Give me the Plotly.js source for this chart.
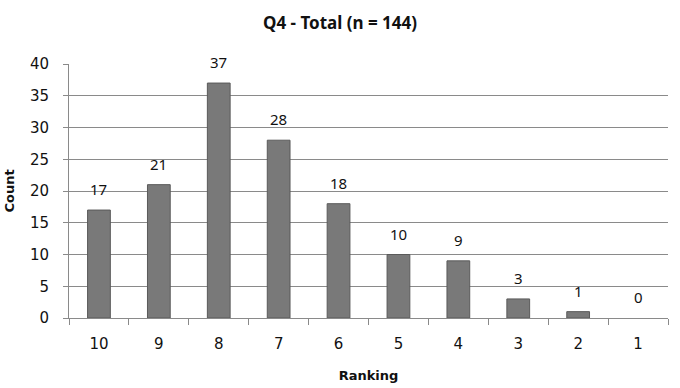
<!DOCTYPE html>
<html>
<head>
<meta charset="utf-8">
<script src="https://cdn.plot.ly/plotly-3.0.1.min.js"></script>
<style>html,body{margin:0;padding:0;background:#fff;}#chart{width:680px;height:388px;}</style>
</head>
<body>
<div id="chart"></div>
<script>
const categories = ["10", "9", "8", "7", "6", "5", "4", "3", "2", "1"];
const counts = [17, 21, 37, 28, 18, 10, 9, 3, 1, 0];
const yTicks = [0, 5, 10, 15, 20, 25, 30, 35, 40];

const trace = {
  type: "bar",
  x: categories,
  y: counts,
  marker: { color: "#797979", line: { color: "#5a5a5a", width: counts.map(v => v > 0 ? 1 : 0) } },
  hoverinfo: "none"
};

const annotations = categories.map((c, i) => ({
  x: i, y: counts[i], xref: "x", yref: "y",
  text: String(counts[i]), showarrow: false,
  yanchor: "middle", yshift: 21,
  font: { family: "Noto Sans, sans-serif", size: 15, color: "#111" }
}));

const layout = {
  width: 680, height: 388,
  margin: { l: 69, r: 12, t: 64, b: 70 },
  paper_bgcolor: "#fff", plot_bgcolor: "#fff",
  bargap: 0.62,
  showlegend: false,
  title: {
    text: "<b>Q4 - Total (n = 144)</b>",
    x: 0.5, xanchor: "center", y: 0.94, yanchor: "middle",
    font: { family: "Noto Sans, sans-serif", size: 17, color: "#111" }
  },
  xaxis: {
    type: "category",
    categoryorder: "array", categoryarray: categories,
    range: [-0.5, 9.5],
    showline: true, linecolor: "#8a8a8a", linewidth: 1,
    ticks: "outside", tickson: "boundaries", ticklen: 6, tickcolor: "#8a8a8a",
    ticklabelstandoff: 12,
    showgrid: false,
    tickfont: { family: "DejaVu Sans, sans-serif", size: 15, color: "#111" },
    title: { text: "<b>Ranking</b>", standoff: 18,
      font: { family: "DejaVu Sans, sans-serif", size: 13, color: "#111" } }
  },
  yaxis: {
    range: [0, 40],
    tickvals: yTicks,
    showline: true, linecolor: "#8a8a8a", linewidth: 1,
    ticks: "outside", ticklen: 5, tickcolor: "#8a8a8a",
    ticklabelstandoff: 11,
    showgrid: true, gridcolor: "#8a8a8a", gridwidth: 1,
    zeroline: false,
    tickfont: { family: "DejaVu Sans, sans-serif", size: 15, color: "#111" },
    title: { text: "<b>Count</b>", standoff: 12,
      font: { family: "DejaVu Sans, sans-serif", size: 13, color: "#111" } }
  },
  annotations: annotations
};

Plotly.newPlot("chart", [trace], layout, { staticPlot: true, displayModeBar: false });
</script>
</body>
</html>
